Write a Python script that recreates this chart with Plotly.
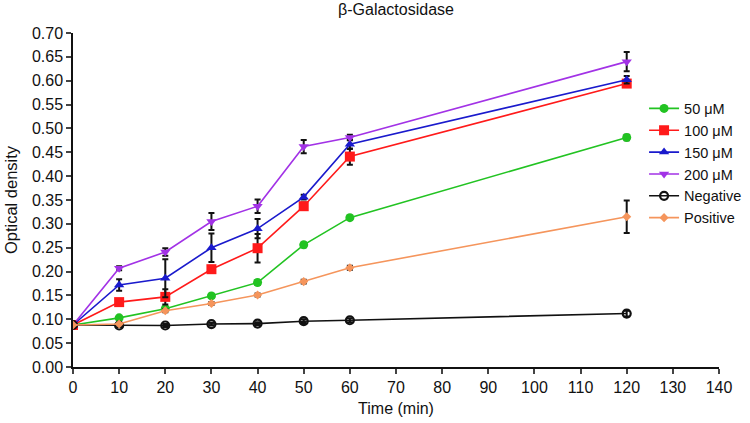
import plotly.graph_objects as go

time = [0, 10, 20, 30, 40, 50, 60, 120]

series_names = ["50 μM", "100 μM", "150 μM", "200 μM", "Negative", "Positive"]
od_50 = [0.088, 0.103, 0.122, 0.149, 0.177, 0.256, 0.313, 0.481]
od_100 = [0.088, 0.136, 0.147, 0.205, 0.249, 0.337, 0.441, 0.594]
od_150 = [0.088, 0.172, 0.186, 0.250, 0.290, 0.356, 0.467, 0.602]
od_200 = [0.088, 0.207, 0.241, 0.305, 0.337, 0.462, 0.481, 0.640]
od_neg = [0.088, 0.087, 0.087, 0.090, 0.091, 0.096, 0.098, 0.112]
od_pos = [0.088, 0.090, 0.118, 0.133, 0.151, 0.179, 0.208, 0.315]

err_50 = [0.002, 0.003, 0.004, 0.004, 0.005, 0.005, 0.004, 0.006]
err_100 = [0.002, 0.004, 0.016, 0.006, 0.030, 0.008, 0.017, 0.005]
err_150 = [0.002, 0.012, 0.040, 0.030, 0.020, 0.005, 0.010, 0.008]
err_200 = [0.002, 0.004, 0.008, 0.018, 0.014, 0.014, 0.006, 0.020]
err_neg = [0.002, 0.003, 0.003, 0.003, 0.003, 0.004, 0.004, 0.006]
err_pos = [0.002, 0.002, 0.003, 0.003, 0.003, 0.004, 0.004, 0.034]

x_ticks = list(range(0, 150, 10))
y_ticks = [round(i * 0.05, 2) for i in range(15)]

colors = ["#22c322", "#ff1a1a", "#1a1acc", "#a232e6", "#111111", "#f5955c"]
symbols = ["circle", "square", "triangle-up", "triangle-down", "circle-open", "diamond"]
sizes = [9, 10, 9, 9, 8, 7]
values = [od_50, od_100, od_150, od_200, od_neg, od_pos]
errors = [err_50, err_100, err_150, err_200, err_neg, err_pos]

fig = go.Figure()
for name, vals, errs, col, sym, sz in zip(series_names, values, errors, colors, symbols, sizes):
    fig.add_trace(go.Scatter(
        x=time, y=vals, name=name, mode="lines+markers",
        line=dict(color=col, width=1.6),
        marker=dict(color=col, symbol=sym, size=sz,
                    line=dict(color=col, width=2.2 if sym == "circle-open" else 0)),
        error_y=dict(type="data", array=errs, visible=True, color="#111111",
                     thickness=2, width=3),
    ))

font = "Liberation Sans, Arial, sans-serif"
fig.update_layout(
    width=750, height=423,
    margin=dict(l=73, r=31, t=33, b=56, autoexpand=False),
    paper_bgcolor="white", plot_bgcolor="white",
    font=dict(family=font, size=15, color="#111111"),
    title=dict(text="β-Galactosidase", x=0.528, xanchor="center", y=0.978, yanchor="middle",
               font=dict(size=16, family=font)),
    showlegend=True,
    legend=dict(x=0.884, y=0.822, xanchor="left", yanchor="top", bgcolor="rgba(0,0,0,0)",
                font=dict(size=14.5, family=font), itemwidth=30, tracegroupgap=0),
    xaxis=dict(range=[0, 140], tickvals=x_ticks, ticks="outside", ticklen=5, tickwidth=1.5,
               showline=True, linecolor="#111111", linewidth=1.5, showgrid=False, zeroline=False,
               automargin=False,
               title=dict(text="Time (min)", standoff=8, font=dict(size=16)),
               tickfont=dict(size=16)),
    yaxis=dict(range=[0, 0.70], tickvals=y_ticks, tickformat=".2f", ticks="outside", ticklen=5,
               tickwidth=1.5, showline=True, linecolor="#111111", linewidth=1.5, showgrid=False,
               zeroline=False, automargin=False,
               title=dict(text="Optical density", standoff=10, font=dict(size=16.5)),
               tickfont=dict(size=16)),
)
fig.write_html("out.html", config={"displayModeBar": False},
               post_script="document.body.style.margin='0px';")
